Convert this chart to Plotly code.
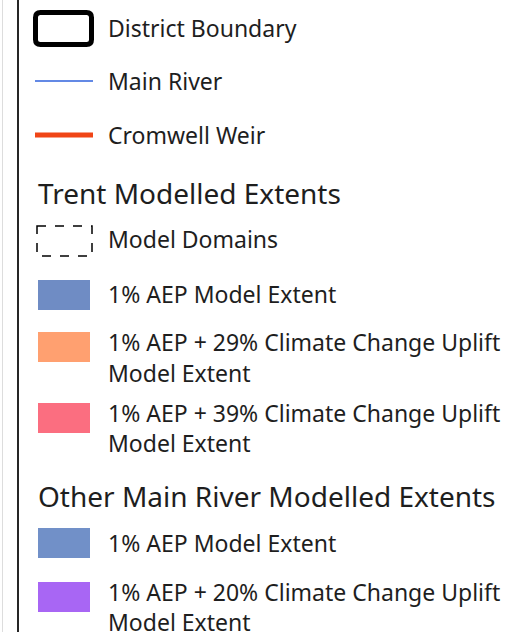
import plotly.graph_objects as go

# ---- legend content (data) ----
boundary_labels = ["District Boundary", "Main River", "Cromwell Weir"]
boundary_kinds = ["box", "line", "line"]
boundary_colors = ["#000000", "#2f62dc", "#f04516"]
boundary_widths = [5, 1.6, 5]

trent_heading = "Trent Modelled Extents"
trent_labels = [
    ["Model Domains"],
    ["1% AEP Model Extent"],
    ["1% AEP + 29% Climate Change Uplift", "Model Extent"],
    ["1% AEP + 39% Climate Change Uplift", "Model Extent"],
]
trent_kinds = ["dash", "fill", "fill", "fill"]
trent_colors = ["#000000", "#6f8cc4", "#ffa070", "#fb6e80"]

other_heading = "Other Main River Modelled Extents"
other_labels = [
    ["1% AEP Model Extent"],
    ["1% AEP + 20% Climate Change Uplift", "Model Extent"],
]
other_kinds = ["fill", "fill"]
other_colors = ["#7190c8", "#a866f4"]

# ---- layout (positions) ----
W, H = 516, 632
FONT = "Noto Sans"
TXT = "#1e1e1e"
BODY = 23
HEAD = 28
sym_x0, sym_x1 = 38, 90
text_x = 106
boundary_y = [28.5, 81, 135]
boundary_text_y = [28, 81, 135]
trent_head_y = 193
trent_sym = [(226, 256), (280, 310), (332, 362), (403, 433)]
trent_text_y = [[239], [294], [342, 373], [413, 443]]
other_head_y = 496
other_sym = [(528, 558), (582, 612)]
other_text_y = [[543], [592, 622]]

fig = go.Figure()
shapes = []
annotations = []

def label(x, y, text, size=BODY):
    annotations.append(dict(x=x, y=y, xref="x", yref="y", text=text, showarrow=False,
                            xanchor="left", yanchor="middle",
                            font=dict(family=FONT, size=size, color=TXT)))

# frame lines on the left
shapes.append(dict(type="line", x0=2.5, x1=2.5, y0=0, y1=H, xref="x", yref="y",
                   line=dict(color="#dddddd", width=1)))
shapes.append(dict(type="line", x0=18, x1=18, y0=0, y1=H, xref="x", yref="y",
                   line=dict(color="#262626", width=2)))

for lab, kind, col, w, yc, ty in zip(boundary_labels, boundary_kinds, boundary_colors,
                                     boundary_widths, boundary_y, boundary_text_y):
    if kind == "box":
        x0, x1, y0, y1 = 35.5, 91.5, 12.5, 44.5
        r = 5
        path = (f"M{x0+r},{y0} L{x1-r},{y0} Q{x1},{y0} {x1},{y0+r} L{x1},{y1-r} "
                f"Q{x1},{y1} {x1-r},{y1} L{x0+r},{y1} Q{x0},{y1} {x0},{y1-r} "
                f"L{x0},{y0+r} Q{x0},{y0} {x0+r},{y0} Z")
        shapes.append(dict(type="path", path=path, xref="x", yref="y",
                           line=dict(color=col, width=w), fillcolor="rgba(0,0,0,0)"))
    else:
        shapes.append(dict(type="line", x0=35, x1=93, y0=yc, y1=yc, xref="x", yref="y",
                           line=dict(color=col, width=w)))
    label(text_x, ty, lab)

label(36, trent_head_y, trent_heading, size=HEAD)

def group(labels, kinds, colors, syms, texts):
    for lab, kind, col, (y0, y1), tys in zip(labels, kinds, colors, syms, texts):
        if kind == "dash":
            shapes.append(dict(type="rect", x0=37, x1=92, y0=y0, y1=y1, xref="x", yref="y",
                               line=dict(color=col, width=1.5, dash="dash"),
                               fillcolor="rgba(0,0,0,0)"))
        else:
            shapes.append(dict(type="rect", x0=sym_x0, x1=sym_x1, y0=y0, y1=y1,
                               xref="x", yref="y", line=dict(width=0), fillcolor=col))
        for line_text, ty in zip(lab, tys):
            label(text_x, ty, line_text)

group(trent_labels, trent_kinds, trent_colors, trent_sym, trent_text_y)
label(36, other_head_y, other_heading, size=HEAD)
group(other_labels, other_kinds, other_colors, other_sym, other_text_y)

fig.update_layout(
    width=W, height=H, margin=dict(l=0, r=0, t=0, b=0),
    paper_bgcolor="white", plot_bgcolor="white",
    xaxis=dict(range=[0, W], visible=False, fixedrange=True),
    yaxis=dict(range=[H, 0], visible=False, fixedrange=True),
    shapes=shapes, annotations=annotations, showlegend=False,
)
fig.write_html("out.html", config={"displayModeBar": False},
               post_script="document.body.style.margin='0px';document.body.style.overflow='hidden';")
